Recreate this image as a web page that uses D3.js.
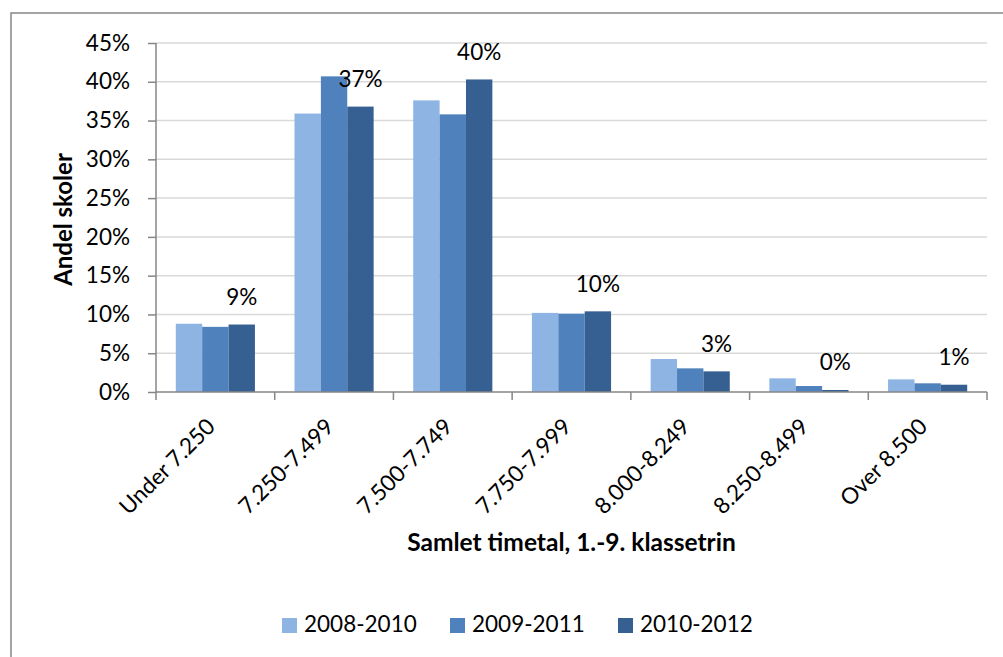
<!DOCTYPE html>
<html>
<head>
<meta charset="utf-8">
<script src="https://cdn.jsdelivr.net/npm/d3@7"></script>
<style>
  body { margin: 0; background: #fff; }
  svg { display: block; font-family: Lato, "Open Sans", sans-serif; }
</style>
</head>
<body>
<svg id="chart"></svg>
<script>
const categories = ["Under 7.250", "7.250-7.499", "7.500-7.749", "7.750-7.999", "8.000-8.249", "8.250-8.499", "Over 8.500"];
const seriesNames = ["2008-2010", "2009-2011", "2010-2012"];
const s2008 = [8.8, 35.9, 37.6, 10.2, 4.25, 1.76, 1.63];
const s2009 = [8.4, 40.7, 35.8, 10.1, 3.05, 0.77, 1.12];
const s2010 = [8.7, 36.8, 40.3, 10.4, 2.66, 0.26, 0.94];
const labels = ["9%", "37%", "40%", "10%", "3%", "0%", "1%"];
const yTicks = [0, 5, 10, 15, 20, 25, 30, 35, 40, 45];
const colors = ["#8EB4E3", "#4F81BD", "#376092"];

const W = 1003, H = 657;
const mLeft = 156, mRight = 987, mTop = 43, mBottom = 392;
const fs = "22.5px";

const svg = d3.select("#chart").attr("width", W).attr("height", H);

// outer border
svg.append("path")
    .attr("d", `M11,${H} L11,13 L${W},13`)
    .attr("fill", "none")
    .attr("stroke", "#868686")
    .attr("stroke-width", 1.5);

let y = d3.scaleLinear().domain([0, 45]).range([mBottom, mTop]);
let x0 = d3.scaleBand().domain(categories).range([mLeft, mRight]).paddingInner(0).paddingOuter(0);
let x1 = d3.scaleBand().domain(seriesNames).range([0, x0.bandwidth()]).paddingOuter(0.75).paddingInner(0);

// gridlines
svg.append("g").selectAll("line")
    .data(yTicks.slice(1))
    .enter()
    .append("line")
    .attr("x1", mLeft).attr("x2", mRight)
    .attr("y1", d => y(d)).attr("y2", d => y(d))
    .attr("stroke", "#d9d9d9")
    .attr("stroke-width", 1.5);

// bars
const series = [s2008, s2009, s2010];
const g = svg.append("g");
series.forEach((vals, si) => {
    g.selectAll(".bar" + si)
        .data(vals)
        .enter()
        .append("rect")
        .attr("x", (d, i) => x0(categories[i]) + x1(seriesNames[si]))
        .attr("y", d => y(d))
        .attr("width", x1.bandwidth())
        .attr("height", d => mBottom - y(d))
        .attr("fill", colors[si]);
});

// data labels (last series)
g.selectAll(".lbl")
    .data(s2010)
    .enter()
    .append("text")
    .text((d, i) => labels[i])
    .attr("x", (d, i) => x0(categories[i]) + x1(seriesNames[2]) + x1.bandwidth() / 2)
    .attr("y", d => y(d) - 19.5)
    .attr("text-anchor", "middle")
    .attr("font-size", fs)
    .attr("fill", "#000");

// y axis
const yAxis = svg.append("g")
    .attr("transform", `translate(${mLeft},0)`)
    .call(d3.axisLeft(y).tickValues(yTicks).tickFormat(d => d + "%").tickSize(8).tickPadding(18));
yAxis.select(".domain").attr("stroke", "#868686").attr("stroke-width", 1.5).attr("d", `M0,${mTop}V${mBottom}`);
yAxis.selectAll(".tick line").attr("stroke", "#868686").attr("stroke-width", 1.5);
yAxis.selectAll(".tick text").attr("font-size", fs).attr("fill", "#000").attr("font-family", "Lato, sans-serif");

// x axis
const xTickVals = d3.range(categories.length + 1).map(i => mLeft + i * x0.step());
const xAxis = svg.append("g");
xAxis.append("line")
    .attr("x1", mLeft).attr("x2", mRight)
    .attr("y1", mBottom).attr("y2", mBottom)
    .attr("stroke", "#868686").attr("stroke-width", 1.5);
xAxis.selectAll(".xt")
    .data(xTickVals)
    .enter()
    .append("line")
    .attr("x1", d => d).attr("x2", d => d)
    .attr("y1", mBottom).attr("y2", mBottom + 8)
    .attr("stroke", "#868686").attr("stroke-width", 1.5);
xAxis.selectAll(".xl")
    .data(categories)
    .enter()
    .append("text")
    .text(d => d)
    .attr("transform", d => `translate(${x0(d) + x0.bandwidth() / 2 - 10},${mBottom + 25}) rotate(-45)`)
    .attr("text-anchor", "end")
    .attr("dy", "0.7em")
    .attr("font-size", fs)
    .attr("fill", "#000");

// axis titles
svg.append("text")
    .text("Andel skoler")
    .attr("transform", `translate(72,219.5) rotate(-90)`)
    .attr("text-anchor", "middle")
    .attr("font-size", "24px")
    .attr("font-weight", "bold")
    .attr("fill", "#000");

svg.append("text")
    .text("Samlet timetal, 1.-9. klassetrin")
    .attr("x", 571.5)
    .attr("y", 551)
    .attr("text-anchor", "middle")
    .attr("font-size", "24.5px")
    .attr("font-weight", "bold")
    .attr("fill", "#000");

// legend
const legX = [282, 450, 618];
const leg = svg.append("g").selectAll("g")
    .data(seriesNames)
    .enter()
    .append("g")
    .attr("transform", (d, i) => `translate(${legX[i]},618)`);
leg.append("rect")
    .attr("width", 15).attr("height", 15)
    .attr("fill", (d, i) => colors[i]);
leg.append("text")
    .text(d => d)
    .attr("x", 22)
    .attr("y", 14)
    .attr("font-size", fs)
    .attr("fill", "#000");
</script>
</body>
</html>
